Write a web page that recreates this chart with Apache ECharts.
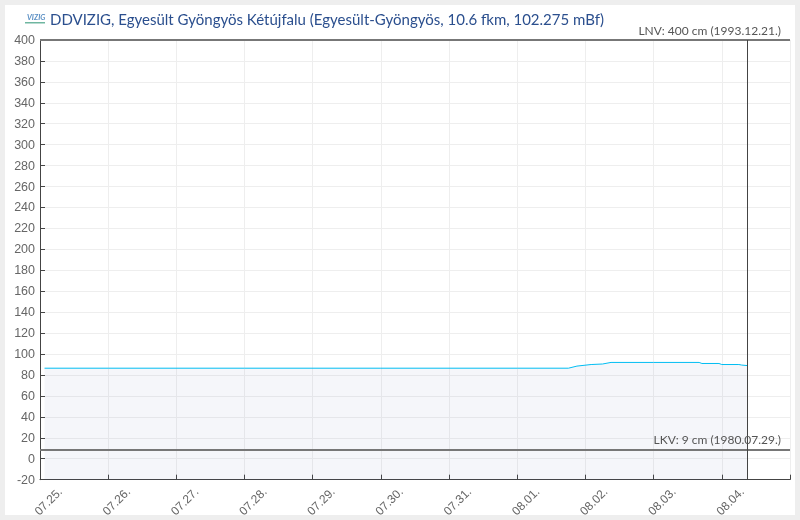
<!DOCTYPE html>
<html>
<head>
<meta charset="utf-8">
<script src="https://cdn.jsdelivr.net/npm/echarts@6/dist/echarts.min.js"></script>
<style>
html,body{margin:0;padding:0;background:#eeeeee;width:800px;height:520px;overflow:hidden}
#card{position:absolute;left:5px;top:5px;width:790px;height:510px;background:#fff}
#c{position:absolute;left:0;top:0;width:800px;height:520px}
</style>
</head>
<body>
<div id="card"></div>
<div id="c"></div>
<script>
const titleText = 'DDVIZIG, Egyesült Gyöngyös Kétújfalu (Egyesült-Gyöngyös, 10.6 fkm, 102.275 mBf)';
const dayLabels = ['07.25.','07.26.','07.27.','07.28.','07.29.','07.30.','07.31.','08.01.','08.02.','08.03.','08.04.',''];
// hours since 07.25. 00:00
const hours  = [1.6, 24, 72, 120, 168, 186, 189, 194, 198, 201, 216, 232, 233, 239, 240, 246, 247, 249];
const levels = [86.5, 86.5, 86.5, 86.5, 86.5, 86.5, 88.5, 90, 90.5, 92, 92, 92, 91, 91, 90, 90, 89.5, 89];
const nowHour = 249;
const lnvValue = 400, lnvText = 'LNV: 400 cm (1993.12.21.)';
const lkvValue = 9, lkvText = 'LKV: 9 cm (1980.07.29.)';

const font = 'Lato';
const axisFont = 'Liberation Sans';
const chart = echarts.init(document.getElementById('c'), null, {renderer:'canvas'});
const thresholdLine = (value, text) => ({
  yAxis: value,
  symbol: 'none',
  lineStyle: {color:'#777777', width:2, type:'solid'},
  label: {show:true, formatter:text, position:'insideEndTop', distance:[9,3],
          color:'#555555', fontFamily:font, fontSize:12}
});
chart.setOption({
  animation:false,
  textStyle:{fontFamily:font},
  grid:{left:40,right:10,top:40,bottom:40,containLabel:false},
  graphic:[
    {type:'text',left:50,top:13,style:{text:titleText,fill:'#2b4f8e',font:'15px '+font}},
    {type:'text',left:27,top:14,style:{text:'VIZIG',fill:'#5a8fc4',font:'italic bold 7.5px '+font}},
    {type:'rect',left:25,top:22,shape:{width:20,height:1.5},style:{fill:'#6fb6a0'}}
  ],
  xAxis:{
    type:'value',min:0,max:264,interval:24,
    axisLine:{show:true,onZero:false,lineStyle:{color:'#444444',width:1}},
    axisTick:{show:true,inside:true,length:5,lineStyle:{color:'#444444'}},
    splitLine:{show:true,lineStyle:{color:'#eeeeee',width:1}},
    axisLabel:{
      rotate:45,align:'center',verticalAlign:'middle',margin:31,padding:[0,0,0,25],
      color:'#666666',fontSize:12,fontFamily:axisFont,showMinLabel:true,showMaxLabel:true,
      formatter:(v)=>dayLabels[Math.round(v/24)]
    }
  },
  yAxis:{
    type:'value',min:-20,max:400,interval:20,
    axisLine:{show:true,onZero:false,lineStyle:{color:'#444444',width:1}},
    axisTick:{show:true,inside:true,length:5,lineStyle:{color:'#444444'}},
    splitLine:{show:true,lineStyle:{color:'#eeeeee',width:1}},
    axisLabel:{color:'#666666',fontSize:12.5,fontFamily:axisFont,margin:5,verticalAlign:'top',lineHeight:1}
  },
  series:[{
    type:'line',
    data:hours.map((h,i)=>[h,levels[i]]),
    showSymbol:false,
    lineStyle:{color:'#00bdf2',width:1},
    itemStyle:{color:'#00bdf2'},
    areaStyle:{origin:'start',color:'rgba(100,110,180,0.09)'},
    markLine:{
      silent:true,symbol:'none',animation:false,
      data:[
        thresholdLine(lnvValue,lnvText),
        thresholdLine(lkvValue,lkvText),
        {xAxis:nowHour,symbol:'none',lineStyle:{color:'#444444',width:1,type:'solid'},label:{show:false}}
      ]
    }
  }]
});
</script>
</body>
</html>
